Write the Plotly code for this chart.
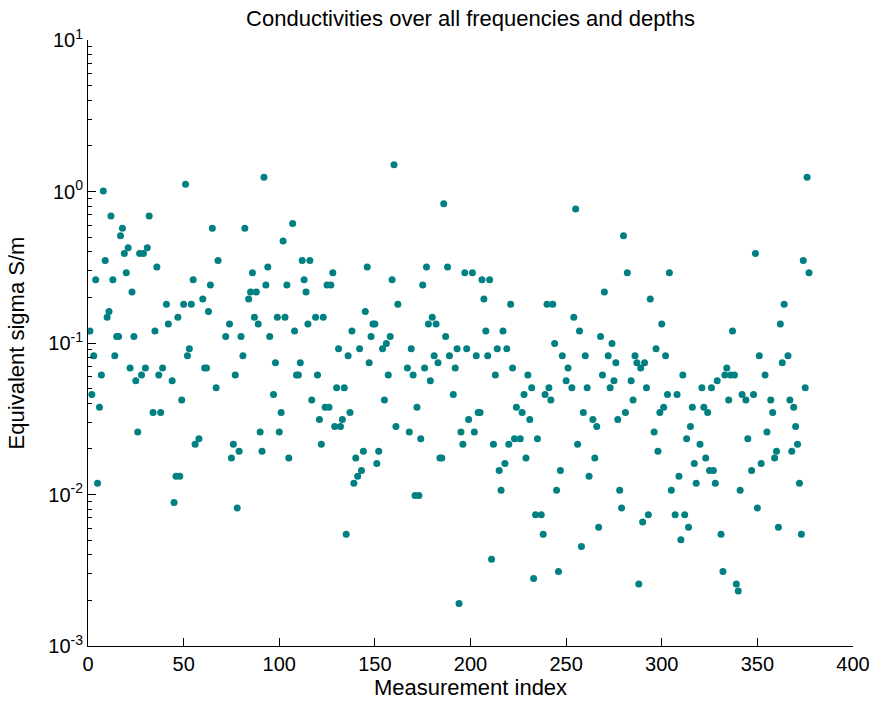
import plotly.graph_objects as go

measurement_index = [
    1, 2, 3, 4, 5, 6, 7, 8, 9, 10, 11, 12, 13, 14, 15, 16, 17, 18, 19, 20,
    21, 22, 23, 24, 25, 26, 27, 28, 29, 30, 31, 32, 34, 35, 36, 37, 38, 39, 41, 42,
    44, 45, 46, 47, 48, 49, 50, 51, 52, 53, 54, 55, 56, 58, 60, 61, 62, 63, 64, 65,
    67, 68, 72, 74, 75, 76, 77, 78, 79, 80, 81, 82, 84, 85, 86, 87, 88, 89, 90, 91,
    92, 93, 94, 95, 97, 98, 99, 100, 101, 102, 103, 104, 105, 107, 108, 109, 110, 111, 112, 113,
    114, 115, 116, 117, 119, 120, 121, 122, 123, 124, 125, 126, 127, 128, 129, 130, 131, 132, 133, 134,
    135, 136, 137, 138, 139, 140, 141, 142, 143, 144, 145, 146, 147, 148, 149, 150, 151, 152, 154, 155,
    156, 157, 158, 159, 160, 161, 162, 167, 168, 169, 170, 171, 172, 173, 174, 175, 176, 177, 178, 179,
    180, 181, 182, 183, 184, 185, 186, 187, 188, 189, 191, 192, 193, 194, 195, 196, 197, 198, 199, 201,
    202, 203, 204, 205, 206, 207, 208, 209, 210, 211, 212, 213, 214, 215, 216, 217, 218, 219, 220, 221,
    222, 223, 224, 226, 227, 228, 229, 230, 231, 232, 233, 234, 235, 237, 238, 239, 240, 241, 242, 243,
    244, 245, 246, 247, 248, 250, 251, 253, 254, 255, 256, 257, 258, 259, 260, 261, 262, 264, 265, 266,
    267, 268, 269, 270, 272, 273, 274, 275, 276, 277, 278, 279, 280, 281, 282, 284, 285, 286, 287, 288,
    289, 290, 291, 292, 293, 294, 296, 297, 298, 299, 300, 301, 302, 303, 304, 305, 307, 308, 309, 310,
    311, 312, 313, 314, 315, 316, 317, 318, 320, 321, 322, 323, 324, 325, 326, 327, 328, 329, 331, 332,
    333, 334, 335, 336, 337, 338, 339, 340, 341, 342, 344, 345, 347, 348, 349, 350, 351, 352, 354, 355,
    357, 358, 359, 360, 361, 362, 363, 364, 366, 367, 368, 369, 370, 371, 372, 373, 374, 375, 376, 377,
]

equivalent_sigma = [
    0.1199, 0.0457, 0.0824, 0.262, 0.01187, 0.0377, 0.0614, 1.008, 0.351, 0.148,
    0.1616, 0.689, 0.262, 0.0824, 0.1105, 0.1105, 0.511, 0.571, 0.390, 0.291,
    0.426, 0.0683, 0.217, 0.1105, 0.0563, 0.0259, 0.390, 0.0614, 0.390, 0.0683,
    0.426, 0.689, 0.0348, 0.1199, 0.317, 0.0614, 0.0348, 0.0683, 0.180, 0.1333,
    0.0563, 0.00885, 0.0132, 0.148, 0.0132, 0.0420, 0.180, 1.115, 0.0824, 0.0916,
    0.180, 0.262, 0.0215, 0.0233, 0.195, 0.0683, 0.0683, 0.1616, 0.241, 0.571,
    0.0506, 0.351, 0.1105, 0.1333, 0.0174, 0.0215, 0.0614, 0.00816, 0.0193, 0.1105,
    0.0824, 0.571, 0.195, 0.217, 0.291, 0.148, 0.217, 0.1333, 0.0259, 0.0193,
    1.24, 0.241, 0.317, 0.1105, 0.0457, 0.0740, 0.148, 0.0259, 0.0348, 0.471,
    0.148, 0.241, 0.0174, 0.616, 0.1199, 0.0614, 0.0614, 0.0740, 0.351, 0.262,
    0.217, 0.1333, 0.351, 0.0420, 0.148, 0.0614, 0.0313, 0.0215, 0.148, 0.0377,
    0.241, 0.0377, 0.241, 0.291, 0.0281, 0.0506, 0.0916, 0.0281, 0.0313, 0.0506,
    0.00547, 0.0824, 0.0348, 0.1199, 0.01187, 0.0174, 0.0132, 0.0916, 0.0144, 0.0193,
    0.1616, 0.317, 0.0740, 0.1105, 0.1333, 0.1333, 0.0160, 0.0193, 0.0916, 0.0420,
    0.0993, 0.0614, 0.1105, 0.262, 1.50, 0.0281, 0.180, 0.0683, 0.0259, 0.0916,
    0.0614, 0.00984, 0.0377, 0.00984, 0.0233, 0.241, 0.0683, 0.317, 0.1333, 0.0563,
    0.148, 0.0824, 0.1333, 0.0740, 0.0174, 0.0174, 0.831, 0.1105, 0.317, 0.0824,
    0.0457, 0.0683, 0.0916, 0.00191, 0.0259, 0.0215, 0.291, 0.0916, 0.0313, 0.291,
    0.0259, 0.0824, 0.0348, 0.0348, 0.262, 0.195, 0.1199, 0.0824, 0.262, 0.00374,
    0.0215, 0.0614, 0.0916, 0.0144, 0.01068, 0.1199, 0.0160, 0.0916, 0.0215, 0.180,
    0.0683, 0.0233, 0.0377, 0.0233, 0.0348, 0.0457, 0.0174, 0.0614, 0.0313, 0.0506,
    0.00279, 0.00734, 0.0233, 0.00734, 0.00547, 0.0457, 0.180, 0.0506, 0.0420, 0.180,
    0.0993, 0.01068, 0.00310, 0.0144, 0.0824, 0.0563, 0.0683, 0.0506, 0.148, 0.766,
    0.0215, 0.1199, 0.00453, 0.0348, 0.0824, 0.0506, 0.0132, 0.0313, 0.0174, 0.0281,
    0.00608, 0.1105, 0.0614, 0.217, 0.0824, 0.0506, 0.0993, 0.0563, 0.0740, 0.0313,
    0.01068, 0.00816, 0.511, 0.0348, 0.291, 0.0563, 0.0420, 0.0824, 0.0740, 0.00257,
    0.0683, 0.00659, 0.0740, 0.0506, 0.00734, 0.195, 0.0259, 0.0916, 0.0193, 0.0348,
    0.1333, 0.0377, 0.0824, 0.0457, 0.291, 0.01068, 0.00734, 0.0457, 0.0132, 0.00502,
    0.0614, 0.00734, 0.0233, 0.00608, 0.0281, 0.0377, 0.0160, 0.01187, 0.0215, 0.0506,
    0.0377, 0.0174, 0.0348, 0.0144, 0.0506, 0.0144, 0.01187, 0.0563, 0.00547, 0.00310,
    0.0614, 0.0683, 0.0420, 0.0614, 0.1199, 0.0614, 0.00257, 0.00231, 0.01068, 0.0457,
    0.0420, 0.0233, 0.0144, 0.0457, 0.390, 0.00816, 0.0824, 0.0160, 0.0614, 0.0259,
    0.0420, 0.0348, 0.0174, 0.0193, 0.00608, 0.1333, 0.0740, 0.180, 0.0824, 0.0420,
    0.0193, 0.0377, 0.0281, 0.0215, 0.01187, 0.00547, 0.351, 0.0506, 1.24, 0.291,
]

x_ticks = [0, 50, 100, 150, 200, 250, 300, 350, 400]
y_ticks = [1e-3, 1e-2, 1e-1, 1e0, 1e1]
y_tick_labels = ["10<sup>-3</sup>", "10<sup>-2</sup>", "10<sup>-1</sup>", "10<sup>0</sup>", "10<sup>1</sup>"]
y_minor = [m * 10.0 ** e for e in (-3, -2, -1, 0) for m in range(2, 10)]

FONT = "Liberation Sans, Arial, Helvetica, sans-serif"

fig = go.Figure()
fig.add_trace(go.Scatter(
    x=measurement_index,
    y=equivalent_sigma,
    mode="markers",
    marker=dict(color="#008080", size=7, line=dict(width=0)),
    showlegend=False,
))

fig.update_layout(
    width=875,
    height=702,
    margin=dict(l=88, r=22, t=40, b=56, autoexpand=False),
    paper_bgcolor="white",
    plot_bgcolor="white",
    font=dict(family=FONT, size=20, color="black"),
    title=dict(
        text="Conductivities over all frequencies and depths",
        x=0.5, xref="paper", xanchor="center",
        y=1 - 18 / 702, yref="container", yanchor="middle",
        font=dict(family=FONT, size=22, color="black"),
    ),
)

fig.update_xaxes(
    range=[0, 400],
    tickmode="array",
    tickvals=x_ticks,
    ticks="inside",
    ticklen=8,
    tickcolor="black",
    showline=True,
    linecolor="black",
    linewidth=1,
    mirror=False,
    showgrid=False,
    zeroline=False,
    automargin=False,
    tickfont=dict(size=20),
    title=dict(text="Measurement index", font=dict(size=22), standoff=3),
)

fig.update_yaxes(
    type="log",
    range=[-3, 1],
    tickmode="array",
    tickvals=y_ticks,
    ticktext=y_tick_labels,
    ticks="inside",
    ticklen=8,
    tickcolor="black",
    minor=dict(tickmode="array", tickvals=y_minor, ticks="inside", ticklen=4,
               tickcolor="black", showgrid=False),
    showline=True,
    linecolor="black",
    linewidth=1,
    mirror=False,
    showgrid=False,
    zeroline=False,
    automargin=False,
    tickfont=dict(size=20),
    title=dict(text="Equivalent sigma S/m", font=dict(size=22), standoff=17),
)

fig.write_html("out.html")
